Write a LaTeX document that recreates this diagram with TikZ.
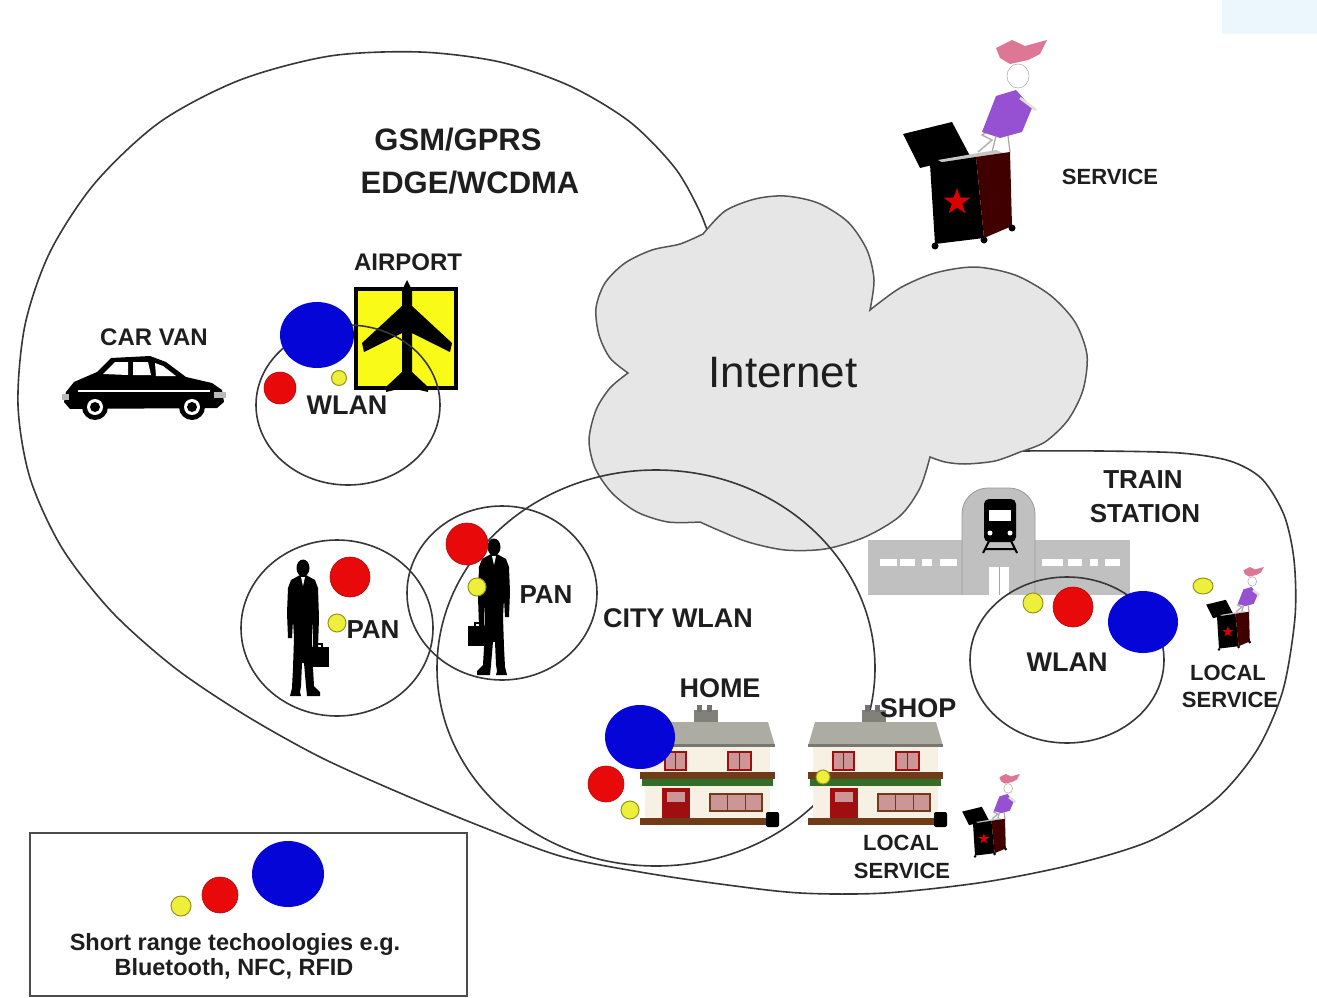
\documentclass[tikz,border=0pt]{standalone}
\usepackage{fontspec}
\setmainfont{Liberation Sans}
\definecolor{lineclr}{RGB}{55,55,55}
\definecolor{labeltext}{RGB}{30,30,30}
\definecolor{cloudfill}{RGB}{230,230,230}
\definecolor{dotblue}{RGB}{5,5,215}
\definecolor{dotred}{RGB}{232,10,10}
\definecolor{dotyellow}{RGB}{238,238,60}
\definecolor{dotyellowedge}{RGB}{150,150,20}
\definecolor{signyellow}{RGB}{250,250,25}
\definecolor{stationgray}{RGB}{192,192,192}
\definecolor{roofgray}{RGB}{172,172,162}
\definecolor{wallcream}{RGB}{246,241,226}
\definecolor{doorred}{RGB}{160,15,15}
\definecolor{winpink}{RGB}{205,150,150}
\definecolor{bandbrown}{RGB}{110,60,25}
\definecolor{bandgreen}{RGB}{50,110,40}
\definecolor{purpledress}{RGB}{150,80,210}
\definecolor{hatpink}{RGB}{220,120,150}
\definecolor{hazeblue}{RGB}{236,247,253}
\tikzset{
  zone/.style={draw=lineclr, line width=1.6pt},
  cloudsty/.style={fill=cloudfill, draw=lineclr!85, line width=1.5pt},
  bluedot/.style={fill=dotblue},
  reddot/.style={fill=dotred, draw=dotred!75!black, line width=0.6pt},
  yellowdot/.style={fill=dotyellow, draw=dotyellowedge, line width=1pt},
  lbl/.style={inner sep=0pt, text=labeltext, font=\bfseries\fontsize{27}{30}\selectfont},
  biglbl/.style={lbl, font=\bfseries\fontsize{31}{34}\selectfont},
  midlbl/.style={lbl, font=\bfseries\fontsize{24}{28}\selectfont},
  smalllbl/.style={lbl, font=\bfseries\fontsize{22}{26}\selectfont},
  legendlbl/.style={lbl, anchor=base, font=\bfseries\fontsize{23.5}{27}\selectfont},
  inetlbl/.style={inner sep=0pt, text=labeltext, font=\fontsize{44}{50}\selectfont},
  legendframe/.style={draw=black!70, line width=1.5pt},
  house/.pic={
    \fill[roofgray!75!black] (54,-12) rectangle (78,2);
    \fill[black!55] (57,-17) rectangle (62,-10);
    \fill[black!55] (67,-17) rectangle (72,-10);
    \fill[roofgray] (0,24) -- (7,0) -- (128,0) -- (135,24) -- cycle;
    \fill[roofgray!70!black] (0,22) rectangle (135,25);
    \fill[wallcream] (5,25) rectangle (130,97);
    \fill[winpink, draw=doorred, line width=1.2pt] (25,30) rectangle (46,48);
    \fill[winpink, draw=doorred, line width=1.2pt] (88,30) rectangle (111,48);
    \draw[doorred, line width=1pt] (35.5,30) -- (35.5,48) (99.5,30) -- (99.5,48);
    \fill[bandbrown] (0,50) rectangle (135,57);
    \fill[bandgreen] (2,57) rectangle (133,64);
    \fill[doorred] (22,66) rectangle (50,99);
    \fill[winpink] (27,70) rectangle (45,80);
    \fill[winpink, draw=bandbrown, line width=1.2pt] (70,72) rectangle (122,89);
    \draw[bandbrown, line width=1pt] (87,72) -- (87,89) (105,72) -- (105,89);
    \fill[bandbrown] (0,96) rectangle (135,103);
    \fill[black, rounded corners=2pt] (126,90) rectangle (139,105);
  },
  jackbox/.pic={
    \draw[gray!60, line width=1.5pt] (78,112) -- (92,100) -- (82,95) -- (96,86);
    \fill[purpledress] (82,92) -- (96,56) -- (116,50) -- (132,68) -- (122,92) -- (100,98) -- cycle;
    \fill[white, draw=gray!60, line width=0.6pt] (118,36) ellipse [x radius=11, y radius=12];
    \fill[hatpink] (96,8) -- (112,0) -- (125,6) -- (147,0) -- (140,14) -- (128,20) -- (110,24) -- (100,18) -- cycle;
    \draw[gray!25, line width=2.5pt] (120,58) -- (136,70);
    \draw[gray!70, line width=1.2pt] (96,96) -- (92,112) (108,96) -- (110,112);
    \fill[black] (3,94) -- (52,82) -- (70,116) -- (20,128) -- cycle;
    \fill[gray!45] (38,120) -- (96,110) -- (110,116) -- (52,128) -- cycle;
    \fill[black] (30,124) -- (76,117) -- (84,198) -- (35,204) -- cycle;
    \fill[black!75!red] (76,117) -- (110,112) -- (112,186) -- (84,198) -- cycle;
    \fill[red!85!black, shift={(57,162)}, scale=14] (0,-1) -- (0.235,-0.324) -- (0.951,-0.309)
      -- (0.380,0.124) -- (0.588,0.809) -- (0,0.4) -- (-0.588,0.809) -- (-0.380,0.124)
      -- (-0.951,-0.309) -- (-0.235,-0.324) -- cycle;
    \fill[black] (35,206) circle [radius=3.5] (84,200) circle [radius=3.5] (112,188) circle [radius=3.5];
  },
  person/.pic={
    \fill[black] (0,0) ellipse [x radius=6.5, y radius=8.5];
    \fill[black] (-3,7) -- (3,7) -- (12,12) -- (15,20) -- (16,50) -- (15,80) -- (10,80) -- (10,52)
      -- (9,70) -- (10,100) -- (11,118) -- (17,124) -- (17,128) -- (4,128) -- (3,118) -- (1,95)
      -- (-1,95) -- (-2,118) -- (-3,124) -- (-2,128) -- (-13,128) -- (-11,120) -- (-10,100)
      -- (-9,70) -- (-10,52) -- (-11,70) -- (-15,70) -- (-16,45) -- (-15,20) -- (-12,12) -- cycle;
    \fill[white] (-2,9) -- (0,18) -- (2,9) -- cycle;
    \fill[black] (5,79) rectangle (26,99);
    \draw[black, line width=1.5pt] (12,79) -- (12,76) -- (19,76) -- (19,79);
  }
}
\begin{document}
\begin{tikzpicture}[x=1pt,y=-1pt]
\useasboundingbox (0,0) rectangle (1317,998);
\fill[white] (0,0) rectangle (1317,998);
\fill[hazeblue] (1222,0) rectangle (1317,34);

% cellular coverage area (GSM/GPRS, EDGE/WCDMA) joined with the train station area
\draw[zone] plot[smooth] coordinates {(1015,451) (1100,451) (1180,453) (1230,461) (1262,479)
  (1284,515) (1294,560) (1295,617) (1283,690) (1257,750) (1215,800) (1152,840) (1075,864)
  (985,882) (885,893) (800,893) (720,884) (640,872) (560,856) (480,826) (400,793) (320,757)
  (245,715) (175,668) (112,612) (62,548) (30,478) (18,405) (25,325) (50,252) (95,183)
  (160,122) (240,80) (330,56) (420,52) (500,62) (570,86) (630,122) (675,168) (700,212) (712,245)};

% Internet cloud
\path[cloudsty] plot[smooth] coordinates {(703,234) (725,211) (755,199) (785,196) (818,203) (848,222) (867,250) (874,280) (870,310)}
  -- plot[smooth] coordinates {(870,310) (900,288) (935,273) (975,267) (1015,275) (1050,295) (1075,322) (1087,355) (1083,390) (1068,420) (1045,442) (1020,452)}
  -- plot[smooth] coordinates {(1020,452) (995,461) (965,464) (945,462) (930,457)}
  -- plot[smooth] coordinates {(930,457) (920,488) (900,516) (865,537) (825,549) (785,550) (748,542) (718,530) (700,522)}
  -- plot[smooth] coordinates {(700,522) (668,522) (637,512) (612,493) (595,468) (589,440) (596,410) (610,388) (628,373)}
  -- plot[smooth] coordinates {(628,373) (610,358) (599,335) (596,308) (605,283) (625,263) (652,250) (680,244) (703,234)}
  -- cycle;
\node[inetlbl] (internet) at (783,373) {Internet};

% city WLAN
\draw[zone] (656,668) ellipse [x radius=219, y radius=198];

% car
\fill[black] (66,392) -- (74,382) -- (97,372) -- (111,358) -- (150,356) -- (166,362) -- (186,377)
  -- (212,383) -- (222,390) -- (224,402) -- (217,408) -- (70,409) -- (64,402) -- cycle;
\fill[white] (103,374) -- (115,362) -- (128,362) -- (128,375) -- cycle;
\fill[white] (133,362) -- (148,362) -- (151,375) -- (133,375) -- cycle;
\fill[white] (155,363) -- (163,366) -- (176,376) -- (156,376) -- cycle;
\draw[white, line width=1.2pt] (78,391) -- (210,391);
\fill[gray!55] (214,392) rectangle (226,398);
\fill[gray!55] (62,394) rectangle (69,400);
\foreach \wx in {95,192} {
  \fill[black] (\wx,407) circle [radius=13];
  \fill[white] (\wx,407) circle [radius=8];
  \fill[black] (\wx,407) circle [radius=5];
}

% airport sign
\fill[signyellow, draw=black, line width=3.5pt] (356,289) rectangle (456,388);
\fill[black] (407,280) -- (412,290) -- (412,306) -- (452,343) -- (450,352) -- (412,333) -- (412,372)
  -- (428,387) -- (428,392) -- (407,387) -- (386,392) -- (386,387) -- (402,372) -- (402,333)
  -- (364,352) -- (362,343) -- (402,306) -- (402,290) -- cycle;

% train station
\fill[stationgray] (868,540) rectangle (1130,595);
\fill[stationgray] (962,515) rectangle (1035,595);
\fill[stationgray, rounded corners=26pt] (962,488) rectangle (1035,570);
\draw[gray!80, line width=0.8pt, rounded corners=26pt] (962,595) -- (962,488) -- (1035,488) -- (1035,595);
\foreach \xa/\xb in {880/897, 900/915, 922/932, 940/957, 1042/1063, 1068/1082, 1090/1098, 1105/1120}
  \fill[white] (\xa,559) rectangle (\xb,566);
\fill[white] (989,567) rectangle (1009,595);
\draw[gray!70, line width=0.8pt] (999,567) -- (999,595);
\fill[black, rounded corners=5pt] (984,499) rectangle (1016,542);
\fill[white] (989,510) rectangle (1011,521);
\fill[white] (990,533) circle [radius=2.5] (1010,533) circle [radius=2.5];
\draw[black, line width=2pt] (989,541) -- (983,553) (1011,541) -- (1017,553) (985,549) -- (1015,549);

% houses and service boxes
\pic (homehouse) at (640,722) {house};
\pic (shophouse) at (808,722) {house};
\pic (topservice) at (900,40) {jackbox};
\pic[scale=0.4] (trainservice) at (1205,567) {jackbox};
\pic[scale=0.4] (shopservice) at (961,774) {jackbox};

% WLAN and PAN cells
\draw[zone] (348,405) ellipse [x radius=92, y radius=80];
\draw[zone] (337,628) ellipse [x radius=96, y radius=88];
\draw[zone] (502,593) ellipse [x radius=95, y radius=87];
\draw[zone] (1067,660) ellipse [x radius=97, y radius=83];

% people
\pic (walkerA) at (303,568) {person};
\pic[xscale=-1] (walkerB) at (494,547) {person};

% short range technology dots
\path[bluedot] (317,335) ellipse [x radius=37, y radius=33];
\path[reddot] (280,388) circle [radius=16];
\path[yellowdot] (339,378) circle [radius=7.5];
\path[reddot] (350,577) circle [radius=20];
\path[yellowdot] (337,623) circle [radius=9];
\path[reddot] (467,544) circle [radius=21];
\path[yellowdot] (477,587) circle [radius=9];
\path[bluedot] (640,737) ellipse [x radius=35, y radius=32];
\path[reddot] (606,784) circle [radius=18];
\path[yellowdot] (630,810) circle [radius=9];
\path[yellowdot] (823,777) circle [radius=7];
\path[yellowdot] (1033,603) circle [radius=10];
\path[reddot] (1073,607) circle [radius=20];
\path[bluedot] (1143,622) ellipse [x radius=35, y radius=31];
\path[yellowdot] (1203,586) ellipse [x radius=10, y radius=8];

% legend
\draw[legendframe] (30,833) rectangle (467,996);
\path[yellowdot] (181,906) circle [radius=10];
\path[reddot] (220,895) circle [radius=18];
\path[bluedot] (288,874) ellipse [x radius=36, y radius=33];
\node[legendlbl] (legendA) at (235,950) {Short range techoologies e.g.};
\node[legendlbl] (legendB) at (234,975) {Bluetooth, NFC, RFID};

% labels
\node[biglbl] (gsm) at (458,140) {GSM/GPRS};
\node[biglbl] (edge) at (470,183) {EDGE/WCDMA};
\node[midlbl] (airport) at (408,262) {AIRPORT};
\node[midlbl] (carvan) at (154,337) {CAR VAN};
\node[lbl] (wlanA) at (347,405) {WLAN};
\node[lbl, font=\bfseries\fontsize{26}{30}\selectfont] (panA) at (373,630) {PAN};
\node[lbl, font=\bfseries\fontsize{26}{30}\selectfont] (panB) at (546,595) {PAN};
\node[lbl] (city) at (678,618) {CITY WLAN};
\node[lbl] (home) at (720,688) {HOME};
\node[lbl] (shop) at (918,708) {SHOP};
\node[lbl, font=\bfseries\fontsize{26}{30}\selectfont] (train) at (1143,480) {TRAIN};
\node[lbl, font=\bfseries\fontsize{26}{30}\selectfont] (station) at (1145,514) {STATION};
\node[lbl] (wlanB) at (1067,662) {WLAN};
\node[smalllbl] (localA) at (1228,673) {LOCAL};
\node[smalllbl] (serviceA) at (1230,700) {SERVICE};
\node[smalllbl] (localB) at (901,843) {LOCAL};
\node[smalllbl] (serviceB) at (902,871) {SERVICE};
\node[smalllbl] (serviceTop) at (1110,177) {SERVICE};
\end{tikzpicture}
\end{document}
